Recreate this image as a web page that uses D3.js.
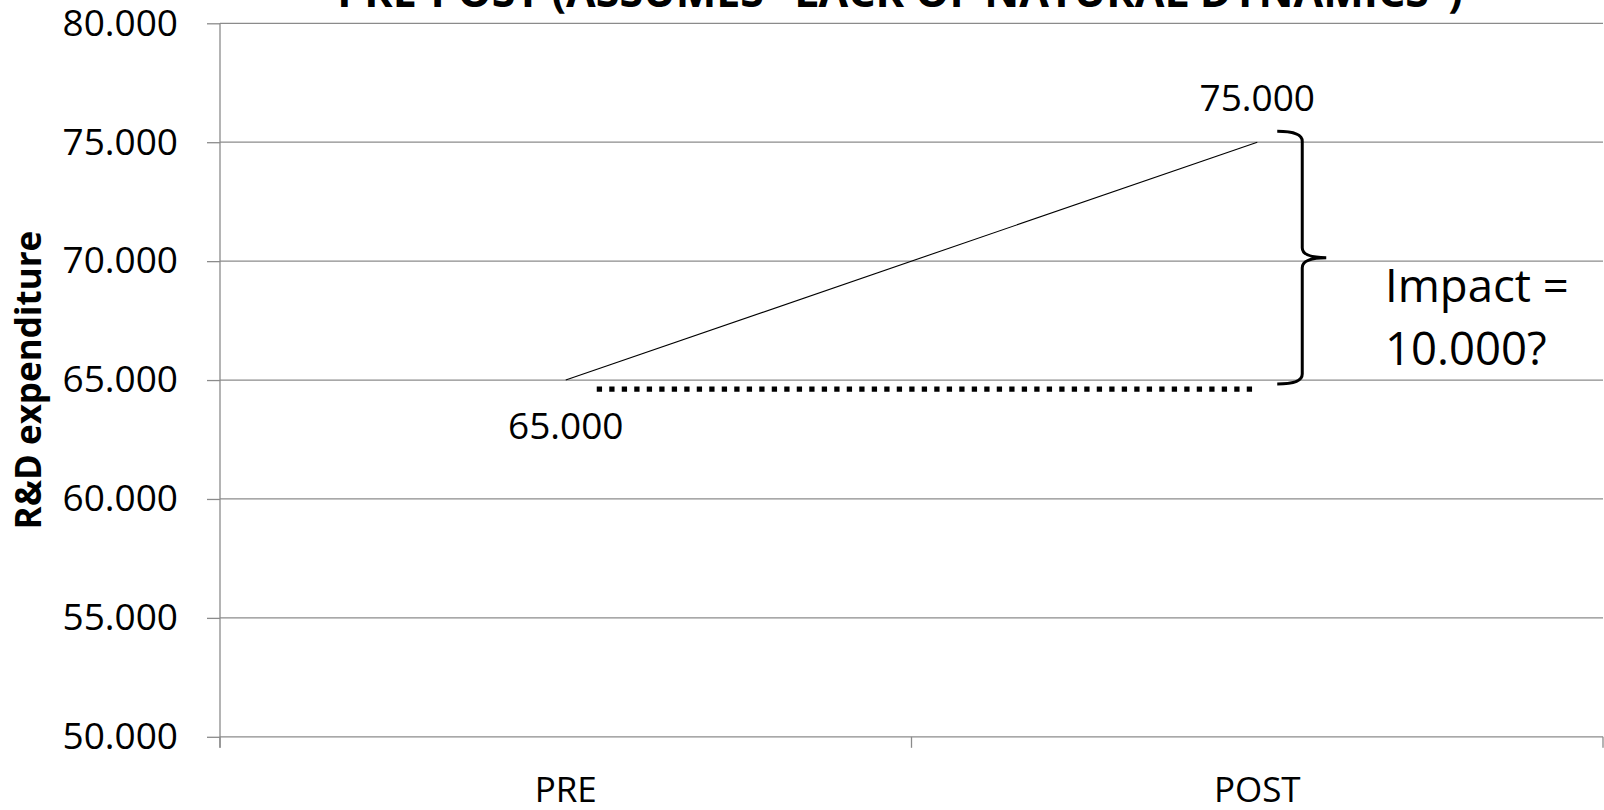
<!DOCTYPE html>
<html>
<head>
<meta charset="utf-8">
<script src="https://cdn.jsdelivr.net/npm/d3@7"></script>
<style>
  html, body { margin: 0; padding: 0; background: #fff; }
  svg { display: block; font-family: "Open Sans", "Noto Sans", sans-serif; }
</style>
</head>
<body>
<svg id="chart" width="1604" height="810"></svg>
<script>
// Categories and observed series
const categories = ["PRE", "POST"];
const rdValues = [65000, 75000];
// Counterfactual (no natural dynamics): stays at the PRE level
const counterfactual = [65000, 65000];
const yTicks = [50000, 55000, 60000, 65000, 70000, 75000, 80000];
const chartTitle = "PRE-POST (ASSUMES \u201CLACK OF NATURAL DYNAMICS\u201D)";
const yTitle = "R&D expenditure";
const impactLines = ["Impact =", "10.000?"];

const svg = d3.select("#chart");
const plotLeft = 220, plotRight = 1603, plotTop = 23.3, plotBottom = 736.8;

const x = d3.scaleBand().domain(categories).range([plotLeft, plotRight]).padding(0);
const y = d3.scaleLinear().domain([50000, 80000]).range([plotBottom, plotTop]);
const cx = c => x(c) + x.bandwidth() / 2;

const locale = d3.formatLocale({ decimal: ",", thousands: ".", grouping: [3], currency: ["", "€"] });
const fmt = locale.format(",");

const gridColor = "#8b8b8b";

// Horizontal gridlines
svg.append("g")
  .selectAll("line")
  .data(yTicks)
  .join("line")
  .attr("x1", plotLeft).attr("x2", plotRight)
  .attr("y1", d => y(d)).attr("y2", d => y(d))
  .attr("stroke", gridColor).attr("stroke-width", 1.3);

// Y axis with labels
const yAxis = svg.append("g")
  .attr("transform", `translate(${plotLeft},0)`)
  .call(d3.axisLeft(y).tickValues(yTicks).tickSize(13).tickPadding(29).tickFormat(fmt));
yAxis.select(".domain").remove();
yAxis.selectAll(".tick line").attr("stroke", gridColor).attr("stroke-width", 1.3);
yAxis.selectAll(".tick text")
  .attr("font-size", 37).attr("fill", "#000")
  .attr("font-family", "'Open Sans', sans-serif");

// Vertical axis line
svg.append("line")
  .attr("x1", plotLeft).attr("x2", plotLeft)
  .attr("y1", plotTop).attr("y2", plotBottom + 11)
  .attr("stroke", gridColor).attr("stroke-width", 1.3);

// Category boundary ticks
const bounds = categories.map(c => x(c)).concat([plotRight]);
svg.append("g")
  .selectAll("line")
  .data(bounds)
  .join("line")
  .attr("x1", d => d).attr("x2", d => d)
  .attr("y1", plotBottom).attr("y2", plotBottom + 11)
  .attr("stroke", gridColor).attr("stroke-width", 1.3);

// Category labels
svg.append("g")
  .selectAll("text")
  .data(categories)
  .join("text")
  .attr("x", d => cx(d))
  .attr("y", plotBottom + 65.5)
  .attr("text-anchor", "middle")
  .attr("font-size", 35)
  .text(d => d);

// Observed R&D line
const line = d3.line().x((d, i) => cx(categories[i])).y(d => y(d));
svg.append("path")
  .datum(rdValues)
  .attr("d", line)
  .attr("fill", "none")
  .attr("stroke", "#000")
  .attr("stroke-width", 1.1);

// Counterfactual dotted line, drawn just under the PRE level
svg.append("line")
  .attr("x1", cx(categories[0]) + 31)
  .attr("x2", cx(categories[1]) + 2)
  .attr("y1", y(counterfactual[0]) + 9)
  .attr("y2", y(counterfactual[1]) + 9)
  .attr("stroke", "#000")
  .attr("stroke-width", 5.3)
  .attr("stroke-dasharray", "5.3 7.2");

// Data labels
svg.append("text")
  .attr("x", cx(categories[0])).attr("y", y(rdValues[0]) + 59)
  .attr("text-anchor", "middle").attr("font-size", 37)
  .text(fmt(rdValues[0]));
svg.append("text")
  .attr("x", cx(categories[1])).attr("y", y(rdValues[1]) - 31)
  .attr("text-anchor", "middle").attr("font-size", 37)
  .text(fmt(rdValues[1]));

// Curly brace spanning the change from PRE to POST
const bTop = y(rdValues[1]) - 11, bBot = y(counterfactual[1]) + 4;
const bMid = (bTop + bBot) / 2;
const bx = cx(categories[1]) + 45, bl = bx - 25, bt = bx + 24, r = 10;
const brace = d3.path();
brace.moveTo(bl, bTop);
brace.quadraticCurveTo(bx, bTop, bx, bTop + r);
brace.lineTo(bx, bMid - r);
brace.quadraticCurveTo(bx, bMid, bt, bMid);
brace.quadraticCurveTo(bx, bMid, bx, bMid + r);
brace.lineTo(bx, bBot - r);
brace.quadraticCurveTo(bx, bBot, bl, bBot);
svg.append("path")
  .attr("d", brace.toString())
  .attr("fill", "none")
  .attr("stroke", "#000")
  .attr("stroke-width", 3);

// Impact annotation
svg.append("g")
  .selectAll("text")
  .data(impactLines)
  .join("text")
  .attr("x", 1385)
  .attr("y", (d, i) => 302 + i * 63)
  .attr("font-size", 45.5)
  .text(d => d);

// Y axis title
svg.append("text")
  .attr("transform", `translate(41,${(plotTop + plotBottom) / 2}) rotate(-90)`)
  .attr("text-anchor", "middle")
  .attr("font-size", 35)
  .attr("font-weight", "bold")
  .text(yTitle);

// Chart title (partly above the frame)
svg.append("text")
  .attr("x", 900).attr("y", 7)
  .attr("text-anchor", "middle")
  .attr("font-size", 43)
  .attr("font-weight", "bold")
  .text(chartTitle);
</script>
</body>
</html>
